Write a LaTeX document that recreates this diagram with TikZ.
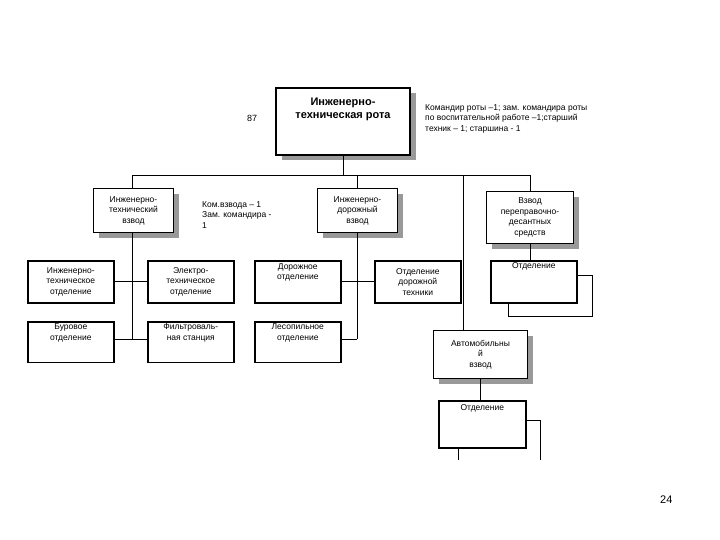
\documentclass[tikz,border=0pt]{standalone}
\usepackage{fontspec}
\setmainfont{Liberation Sans}
\begin{document}
\begin{tikzpicture}[x=1pt,y=-1pt,
  bx/.style={draw,line width=1.6pt,fill=white,align=center,font=\fontsize{8.5}{10.5}\selectfont,anchor=north west,inner sep=2pt},
  sh/.style={fill=black!40},
  ln/.style={line width=0.8pt},
  txt/.style={align=left,font=\fontsize{8.5}{10.5}\selectfont,anchor=north west,inner sep=0pt}]
\useasboundingbox (0,0) rectangle (720,540);
% shadows
\fill[sh] (282,93) rectangle (416,160);
\fill[sh] (99,194) rectangle (179,238);
\fill[sh] (323,194) rectangle (403,238);
\fill[sh] (492,197) rectangle (579,249);
\fill[sh] (439,336) rectangle (533,384);
% connectors
\coordinate (busL) at (132,175); \coordinate (busR) at (530,175);
\draw[ln] (343,154) -- (343,175);
\draw[ln] (busL) -- (busR);
\draw[ln] (132,175) -- (132,188);
\draw[ln] (357,175) -- (357,188);
\draw[ln] (530,175) -- (530,191);
\draw[ln] (463,175) -- (463,330);
\draw[ln] (132,232) -- (132,339);
\draw[ln] (113,281) -- (147,281);
\draw[ln] (113,339) -- (147,339);
\draw[ln] (357,232) -- (357,339);
\draw[ln] (340,281) -- (374,281);
\draw[ln] (340,339) -- (357,339);
\draw[ln] (530,243) -- (530,260);
\draw[ln] (480,378) -- (480,400);
\draw[ln] (576,275) -- (592,275) -- (592,316) -- (508,316) -- (508,302);
\draw[ln] (525,420) -- (540,420) -- (540,460);
\draw[ln] (458,447) -- (458,460);
% boxes
\node[bx,line width=2.2pt,minimum width=134pt,minimum height=67pt,font=\bfseries\fontsize{11}{13}\selectfont,anchor=north] (top) at (343,87) {Инженерно-\\техническая рота\\[14pt]};
\node[bx,line width=1pt,minimum width=80pt,minimum height=44pt] (itv) at (93,188) {Инженерно-\\технический\\взвод};
\node[bx,line width=1pt,minimum width=80pt,minimum height=44pt] (idv) at (317,188) {Инженерно-\\дорожный\\взвод};
\node[bx,line width=1pt,minimum width=87pt,minimum height=52pt] (vpd) at (486,191) {Взвод\\переправочно-\\десантных\\средств};
\node[bx,minimum width=86pt,minimum height=42pt] (ito) at (27,260) {Инженерно-\\техническое\\отделение};
\node[bx,minimum width=86pt,minimum height=42pt] (eto) at (147,260) {Электро-\\техническое\\отделение};
\node[bx,minimum width=86pt,minimum height=42pt] (dor) at (254,260) {Дорожное\\отделение\\[10pt]};
\node[bx,minimum width=86pt,minimum height=42pt] (odt) at (374,260) {Отделение\\дорожной\\техники};
\node[bx,minimum width=86pt,minimum height=42pt] (otd1) at (490,260) {Отделение\\[22pt]};
\node[bx,minimum width=86pt,minimum height=40pt] (bur) at (27,321) {Буровое\\отделение\\[10pt]};
\node[bx,minimum width=86pt,minimum height=40pt] (fil) at (147,321) {Фильтроваль-\\ная станция\\[10pt]};
\node[bx,minimum width=86pt,minimum height=40pt] (les) at (254,321) {Лесопильное\\отделение\\[10pt]};
\node[bx,line width=1pt,minimum width=94pt,minimum height=48pt] (avt) at (433,330) {Автомобильны\\й\\взвод};
\node[bx,minimum width=87pt,minimum height=47pt] (otd2) at (438,400) {Отделение\\[24pt]};
% texts
\node[txt,font=\fontsize{9}{11}\selectfont] (n87) at (247,115) {87};
\node[txt] (kr) at (425,104) {Командир роты –1; зам. командира роты\\по воспитательной работе –1;старший\\техник – 1; старшина - 1};
\node[txt] (kv) at (202,201) {Ком.взвода – 1\\Зам. командира -\\1};
\node[txt,font=\fontsize{11}{13}\selectfont] (pg) at (660,496) {24};
\end{tikzpicture}
\end{document}
